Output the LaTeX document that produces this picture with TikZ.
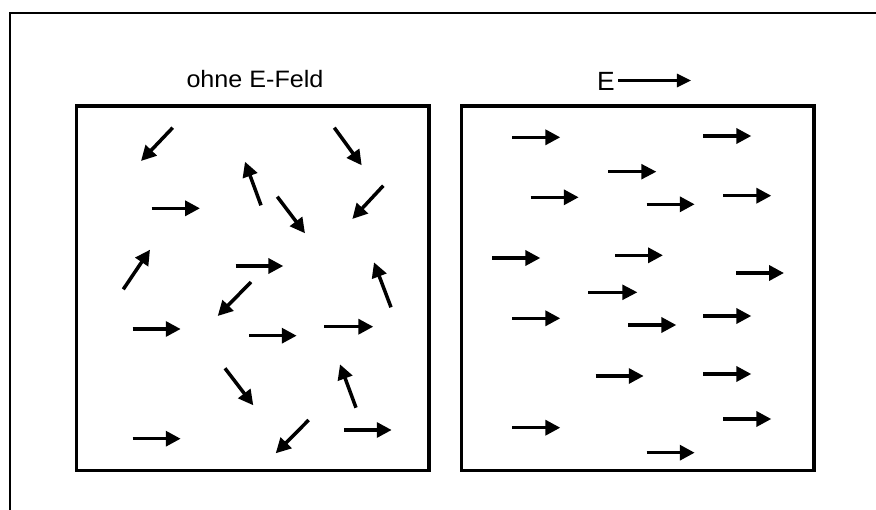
\documentclass[tikz,border=0pt]{standalone}
\usepackage{fontspec}
\setmainfont{Liberation Sans}
\usetikzlibrary{arrows.meta}

\tikzset{
  dipol/.style={line width=2pt, -{Triangle[length=8.5pt,width=8.5pt]}},
  dipolthin/.style={line width=1.4pt, -{Triangle[length=8.5pt,width=8.5pt]}},
  kasten/.style={line width=1.8pt},
}

\begin{document}
\begin{tikzpicture}[x=0.02cm,y=-0.02cm]
\useasboundingbox (0,0) rectangle (876,510);

% ===== Rahmen =====
\draw[line width=1.3pt] (876,13) -- (10,13) -- (10,510);

% ===== Zwei Kaesten =====
\draw[kasten] (76.5,106) rectangle (429,470.5);
\draw[kasten] (461.5,106) rectangle (814,470.5);

% ===== Beschriftung =====
\node[anchor=base, font=\fontsize{13.5}{15}\selectfont, xscale=1.06] (titel) at (255,88) {ohne E-Feld};
\node[anchor=base east, inner sep=0pt, font=\fontsize{15}{17}\selectfont] (feld) at (615,91) {E};
\coordinate (feldspitze) at (691,80.5);
\draw[line width=1.4pt, -{Triangle[length=8pt,width=7.5pt]}] (feld.east |- feldspitze) ++(3,0) -- (feldspitze);

% ===== Ohne Feld: Dipole ungeordnet =====
\foreach \a/\b/\c/\d in {
    172.7/127.7/141/161, 334.3/127.7/361.7/165.3,
    261/205.3/245/161.7, 151.7/208.3/200/208.3,
    277.3/196.7/305/233.3, 383.3/185.7/352.3/219,
    123.3/289.3/150/249.7, 235.7/266/283.3/266,
    391/307.3/374/262.3, 251/282/217.7/316,
    132.7/329/180.7/329, 249/335.7/296.7/335.7,
    324.3/326.7/373.3/326.7, 225/368.3/253.3/405.3,
    356/407.7/340/364.3, 132.7/438.7/180.7/438.7,
    308.7/420/275.7/453.3, 344/430/391.7/430} {
    \draw[dipol] (\a,\b) -- (\c,\d);
}

% ===== Mit Feld: Dipole ausgerichtet =====
\foreach \x/\y in {
    512.3/137.3, 703.3/136, 530.7/197.3, 646.7/204.3,
    723.3/195.7, 492.3/258, 615/255.3, 736/273,
    512.3/318.3, 628.3/325, 703.3/316, 595.7/376,
    703.3/374, 512.3/427.7, 723.3/419, 646.7/452.7} {
    \draw[dipol] (\x,\y) -- ++(48,0);
}
\draw[dipolthin] (608.3,171.7) -- ++(48,0);
\draw[dipolthin] (588.3,292.3) -- ++(49,0);

\end{tikzpicture}
\end{document}
